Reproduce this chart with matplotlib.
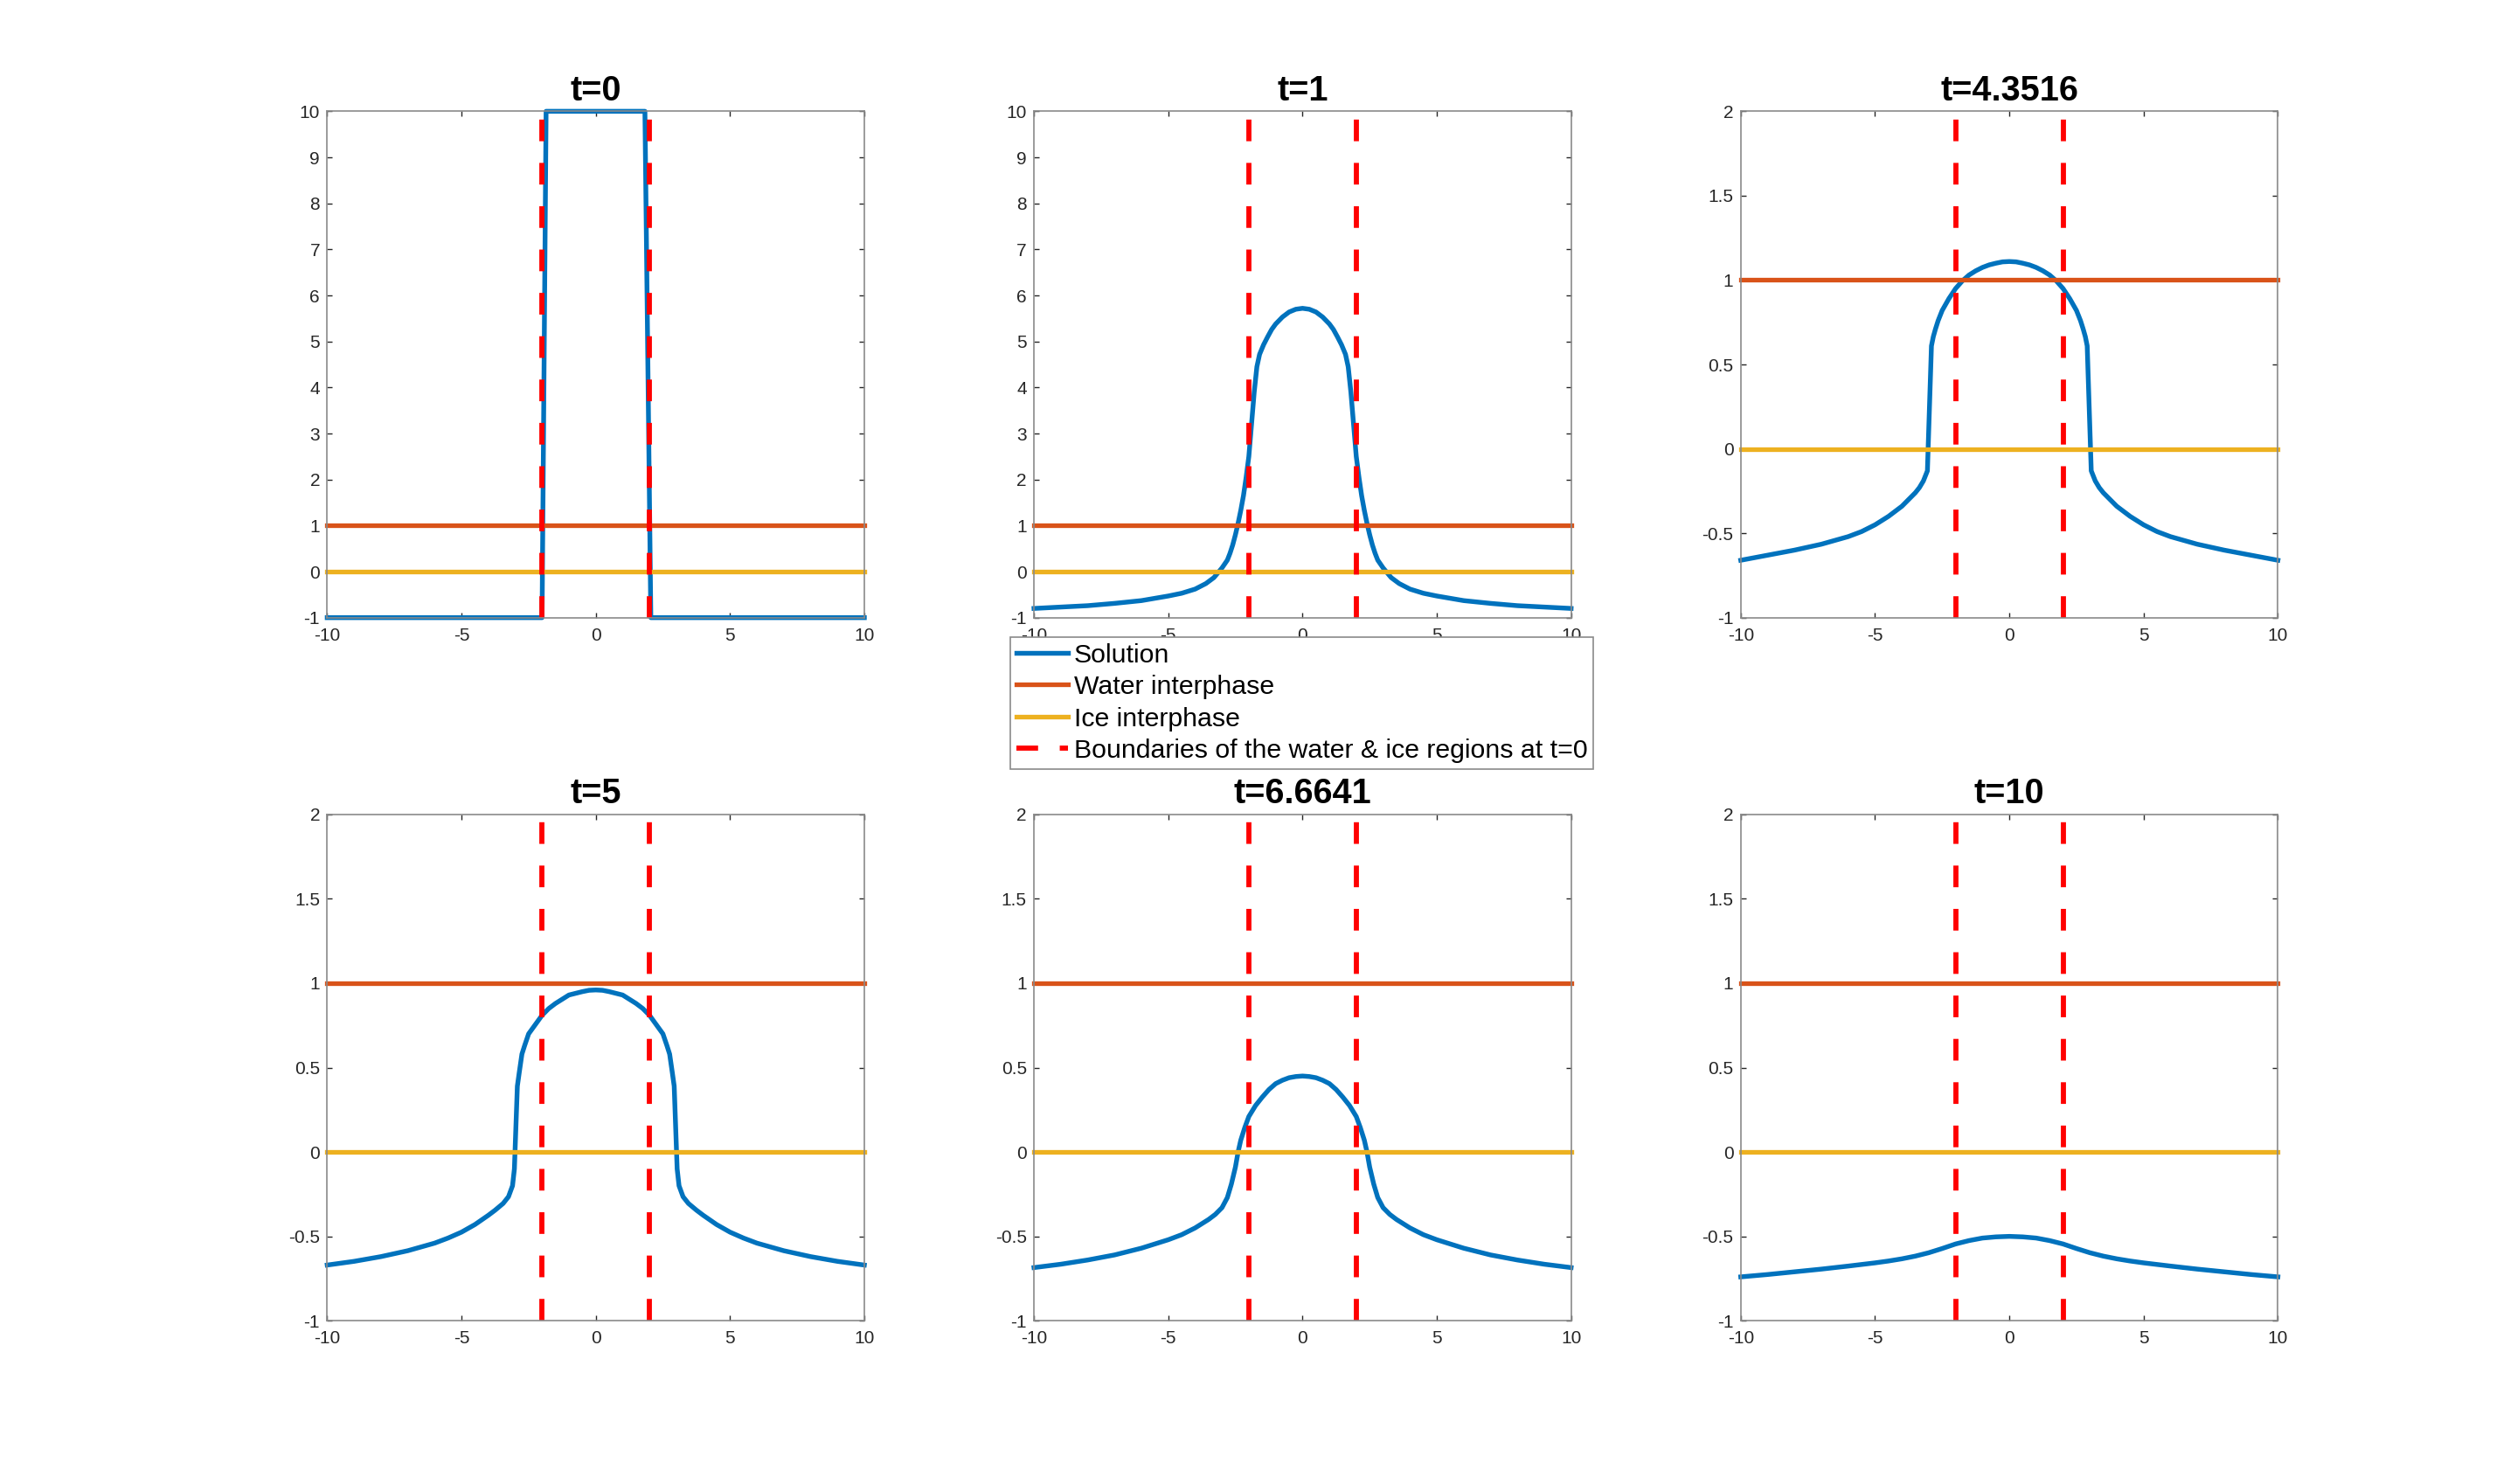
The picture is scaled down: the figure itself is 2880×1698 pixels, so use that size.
import numpy as np
import matplotlib
matplotlib.use('Agg')
import matplotlib.pyplot as plt

plt.rcParams['font.family'] = ['Liberation Sans', 'DejaVu Sans']
plt.rcParams['axes.unicode_minus'] = False

# values (curves are symmetric about x=0,
# so only the right half x >= 0 is listed for the smooth ones)
titles = ['t=0', 't=1', 't=4.3516', 't=5', 't=6.6641', 't=10']

x_t0 = [-10, -2.0, -1.85, 1.83, 2.05, 10]
y_t0 = [-1, -1, 10, 10, -1, -1]

x_t1 = [0, 0.25, 0.5, 0.75, 1.0, 1.15, 1.3, 1.45, 1.6, 1.7, 1.8, 1.9, 2.0, 2.1, 2.2, 2.3, 2.4, 2.5,
        2.6, 2.7, 2.8, 3.0, 3.3, 3.6, 4, 4.5, 5, 6, 7, 8, 10]
y_t1 = [5.72, 5.7, 5.64, 5.53, 5.38, 5.26, 5.1, 4.93, 4.72, 4.45, 3.9, 3.2, 2.5, 2.05, 1.65, 1.33, 1.05, 0.8,
        0.58, 0.4, 0.25, 0.08, -0.13, -0.26, -0.38, -0.47, -0.53, -0.63, -0.69, -0.74, -0.8]

x_t4 = [0, 0.25, 0.5, 0.75, 1.0, 1.25, 1.5, 1.75, 2.0, 2.25, 2.5, 2.65, 2.75, 2.83, 2.9, 3.05, 3.2,
        3.35, 3.5, 3.75, 4, 4.5, 5, 5.5, 6, 7, 8, 9, 10]
y_t4 = [1.11, 1.108, 1.1, 1.09, 1.075, 1.055, 1.03, 0.995, 0.95, 0.89, 0.82, 0.76, 0.71, 0.665, 0.61, -0.13, -0.19,
        -0.23, -0.26, -0.3, -0.34, -0.4, -0.45, -0.49, -0.52, -0.565, -0.6, -0.63, -0.66]

x_t5 = [0, 0.25, 0.5, 0.75, 1.0, 1.25, 1.5, 1.75, 2.0, 2.25, 2.5, 2.65, 2.75, 2.85, 2.92, 3.03, 3.1,
        3.25, 3.45, 3.75, 4, 4.5, 5, 5.5, 6, 7, 8, 9, 10]
y_t5 = [0.96, 0.958, 0.95, 0.94, 0.93, 0.905, 0.88, 0.85, 0.81, 0.755, 0.7, 0.63, 0.58, 0.47, 0.39, -0.1, -0.2,
        -0.265, -0.305, -0.345, -0.375, -0.43, -0.475, -0.51, -0.54, -0.585, -0.62, -0.648, -0.67]

x_t6 = [0, 0.25, 0.5, 0.75, 1.0, 1.25, 1.5, 1.75, 2.0, 2.15, 2.3, 2.4, 2.5, 2.65, 2.8, 3.0, 3.25,
        3.5, 4, 4.5, 5, 5.5, 6, 7, 8, 9, 10]
y_t6 = [0.45, 0.447, 0.44, 0.425, 0.405, 0.37, 0.325, 0.275, 0.21, 0.145, 0.07, 0.0, -0.09, -0.19, -0.27, -0.33, -0.37,
        -0.4, -0.45, -0.49, -0.52, -0.545, -0.57, -0.61, -0.64, -0.665, -0.685]

x_t10 = [0, 0.5, 1, 1.5, 2, 2.5, 3, 3.5, 4, 4.5, 5, 6, 7, 8, 9, 10]
y_t10 = [-0.5, -0.503, -0.51, -0.525, -0.545, -0.572, -0.597, -0.617, -0.633, -0.646, -0.657, -0.676,
         -0.694, -0.71, -0.726, -0.74]


def mirrored(xh, yh):
    xs = [-v for v in xh[:0:-1]] + list(xh)
    ys = list(yh[:0:-1]) + list(yh)
    return xs, ys


solutions = [(x_t0, y_t0), mirrored(x_t1, y_t1), mirrored(x_t4, y_t4),
             mirrored(x_t5, y_t5), mirrored(x_t6, y_t6), mirrored(x_t10, y_t10)]

x_span = [-10, 10]
water_level = 1
ice_level = 0
boundaries = [-2, 2]
ylims = [(-1, 10), (-1, 10), (-1, 2), (-1, 2), (-1, 2), (-1, 2)]

labels = ['Solution', 'Water interphase', 'Ice interphase',
          'Boundaries of the water & ice regions at t=0']

c_blue = '#0072BD'
c_orange = '#D95319'
c_yellow = '#EDB120'

fig = plt.figure(figsize=(28.8, 16.98), dpi=100)

lefts = [0.13, 0.4108, 0.6916]
bottoms = [0.5838, 0.11]
for i in range(6):
    ax = fig.add_axes([lefts[i % 3], bottoms[i // 3], 0.2134, 0.3412])
    xs, ys = solutions[i]
    lo, hi = ylims[i]
    h1, = ax.plot(xs, ys, color=c_blue, lw=3.9, clip_on=False, solid_joinstyle='round')
    h2, = ax.plot(x_span, [water_level, water_level], color=c_orange, lw=3.8, clip_on=False)
    h3, = ax.plot(x_span, [ice_level, ice_level], color=c_yellow, lw=3.8, clip_on=False)
    for b in boundaries:
        h4, = ax.plot([b, b], [lo, hi], color='#FF0000', lw=4.2, dashes=(4.25, 4.25), clip_on=False)
    if i == 0:
        handles = [h1, h2, h3, h4]
    ax.set_xlim(-10, 10)
    ax.set_ylim(lo, hi)
    ax.set_xticks([-10, -5, 0, 5, 10])
    if hi == 10:
        ax.set_yticks(np.arange(-1, 11, 1))
    else:
        ax.set_yticks([-1, -0.5, 0, 0.5, 1, 1.5, 2])
        ax.set_yticklabels(['-1', '-0.5', '0', '0.5', '1', '1.5', '2'])
    ax.tick_params(direction='in', top=True, right=True, length=4.5, width=1.0,
                   color='#262626', labelcolor='#262626', labelsize=15, pad=6)
    ax.tick_params(axis='x', pad=8)
    for s in ax.spines.values():
        s.set_color('#8a8a8a')
        s.set_linewidth(1.2)
    ax.set_title(titles[i], fontsize=28.5, fontweight='bold', pad=9)

leg = fig.legend(handles, labels, loc='upper left', bbox_to_anchor=(0.4014, 0.5707),
                 bbox_transform=fig.transFigure, fontsize=21.8, handlelength=1.95,
                 handletextpad=0.23, borderpad=0.22, labelspacing=0.28, borderaxespad=0,
                 fancybox=False, framealpha=1, edgecolor='#8a8a8a')
leg.get_frame().set_linewidth(1.2)

plt.savefig('out.png', dpi=100)
